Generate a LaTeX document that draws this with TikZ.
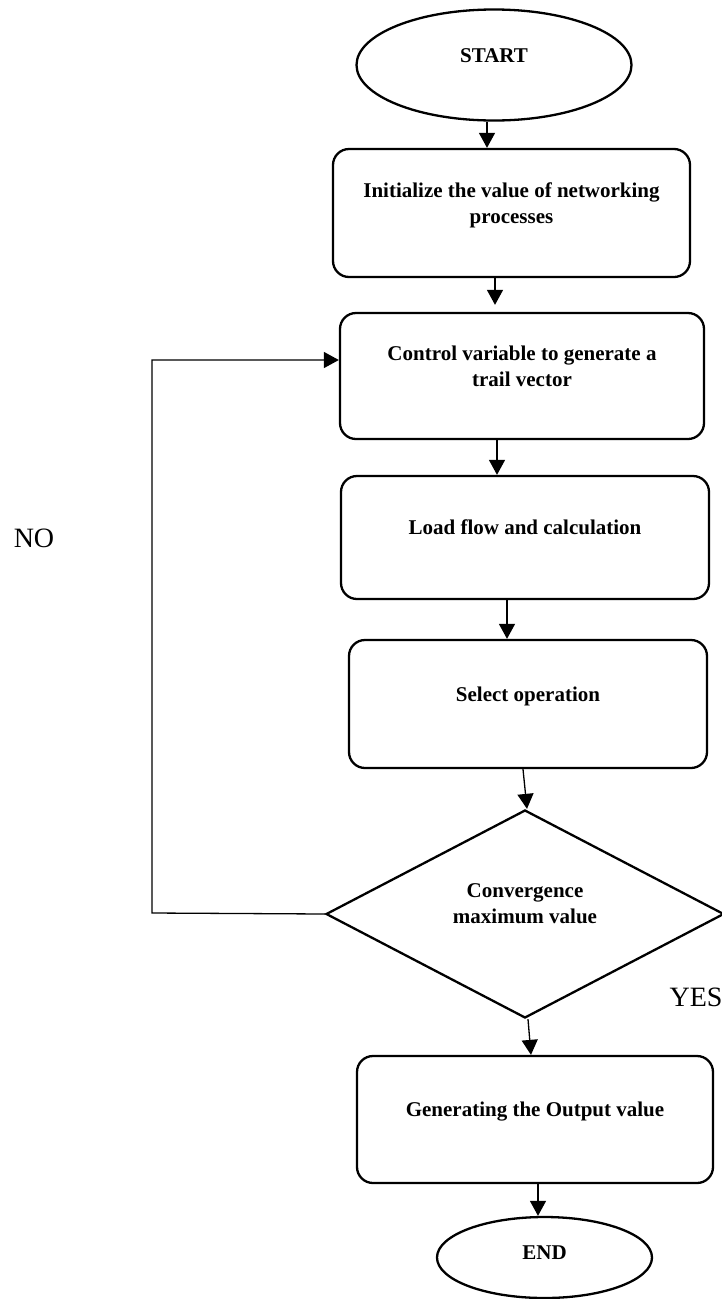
\documentclass[tikz,border=0pt]{standalone}
\usepackage{fontspec}
\setmainfont{Liberation Serif}
\usetikzlibrary{arrows.meta, shapes.geometric, positioning}

\begin{document}
\begin{tikzpicture}[x=1pt, y=-1pt,
    outline/.style={draw, line width=2.3pt},
    boldtext/.style={font=\bfseries\fontsize{21}{26}\selectfont},
    stepbox/.style={outline, boldtext, rectangle, rounded corners=16pt, align=center, text depth=20pt},
    terminal/.style={outline, boldtext, ellipse, inner sep=0pt},
    decision/.style={outline, boldtext, diamond, align=center, inner sep=0pt, text depth=20pt},
    answer/.style={font=\fontsize{28}{32}\selectfont},
    arr/.style={line width=1.3pt, -{Triangle[length=15pt,width=16pt]}}]
    \useasboundingbox (0,0) rectangle (722,1299);
    \node[terminal, minimum width=275pt, minimum height=111pt, text depth=18pt] at (494,65) (start) {START};
    \node[stepbox, minimum width=357pt, minimum height=128pt] at (511.5,213) (init) {Initialize the value of networking\\processes};
    \node[stepbox, minimum width=364pt, minimum height=126pt] at (522,376) (ctrl) {Control variable to generate a\\trail vector};
    \node[stepbox, minimum width=368pt, minimum height=123pt] at (525,537.5) (load) {Load flow and calculation};
    \node[stepbox, minimum width=358pt, minimum height=128pt] at (528,704) (sel) {Select operation};
    \node[decision, minimum width=398pt, minimum height=208pt] at (525,914) (conv) {Convergence\\maximum value};
    \node[stepbox, minimum width=356pt, minimum height=127pt] at (535,1119.5) (gen) {Generating the Output value};
    \node[terminal, minimum width=215pt, minimum height=81pt, text depth=9pt] at (544.5,1257.5) (stop) {END};
    \node[answer] at (34,538) (no) {NO};
    \node[answer] at (696,997) (yes) {YES};
    \draw[arr] ([xshift=-7pt]start.south) -- ([xshift=-24.5pt]init.north);
    \draw[arr, shorten >=7pt] ([xshift=-16.5pt]init.south) -- ([xshift=-27pt]ctrl.north);
    \draw[arr] ([xshift=-25pt]ctrl.south) -- ([xshift=-28pt]load.north);
    \draw[arr] ([xshift=-18pt]load.south) -- ([xshift=-21pt]sel.north);
    \draw[arr] ([xshift=-5pt]sel.south) -- ([xshift=2pt]conv.north);
    \draw[arr] ([xshift=3pt]conv.south) -- ([xshift=-4pt]gen.north);
    \draw[arr] ([xshift=3pt]gen.south) -- ([xshift=-6.5pt]stop.north);
    \coordinate (loopbot) at (152,913);
    \coordinate (looptop) at (152,360);
    \draw[arr] (conv.west) -- (loopbot) -- (looptop) -- (looptop -| ctrl.west);
\end{tikzpicture}
\end{document}
